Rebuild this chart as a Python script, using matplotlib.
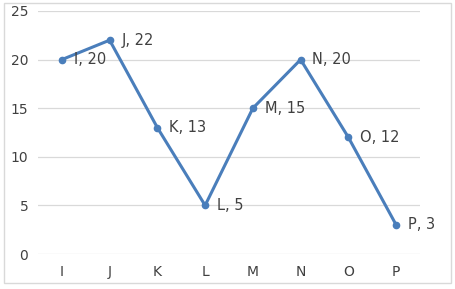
import matplotlib.pyplot as plt
from matplotlib.patches import Rectangle

categories = ['I', 'J', 'K', 'L', 'M', 'N', 'O', 'P']
values = [20, 22, 13, 5, 15, 20, 12, 3]
yticks = [0, 5, 10, 15, 20, 25]

line_color = '#4a7ebb'
text_color = '#404040'

fig = plt.figure(figsize=(4.55, 2.89), dpi=100)
ax = fig.add_axes([38/455, 35/289, 382/455, 243/289])

x = list(range(len(categories)))
ax.plot(x, values, color=line_color, lw=2.2, marker='o', ms=4.5, zorder=3)

for xi, c, v in zip(x, categories, values):
    ax.annotate('%s, %d' % (c, v), (xi, v), xytext=(8.5, 0), textcoords='offset points',
                ha='left', va='center', fontsize=10.5, color=text_color)

ax.set_xlim(-0.5, len(categories) - 0.5)
ax.set_ylim(0, 25)
ax.set_xticks(x)
ax.set_xticklabels(categories)
ax.set_yticks(yticks)
ax.tick_params(length=0, labelsize=10, labelcolor=text_color)
ax.tick_params(axis='y', pad=7)
ax.tick_params(axis='x', pad=8)
ax.grid(axis='y', color='#d9d9d9', lw=0.9)
ax.set_axisbelow(True)
for s in ax.spines.values():
    s.set_visible(False)

fig.patches.append(Rectangle((4/455, 6/289), 447/455, 280/289, transform=fig.transFigure,
                             fill=False, edgecolor='#d9d9d9', lw=1))

fig.savefig('out.png', dpi=100)
